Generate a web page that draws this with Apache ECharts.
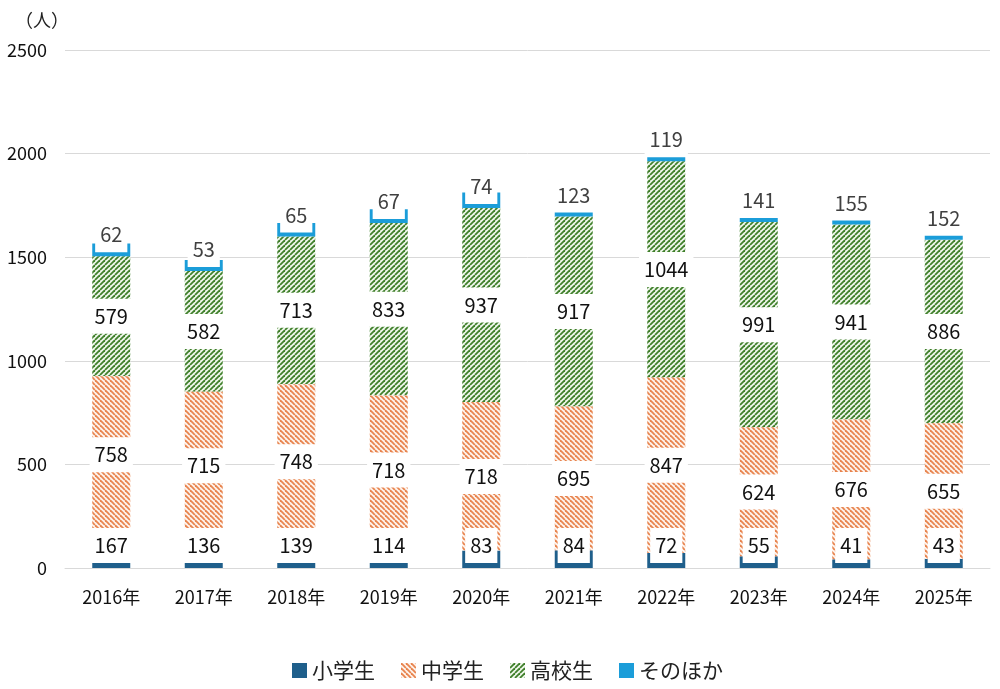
<!DOCTYPE html>
<html>
<head>
<meta charset="utf-8">
<script src="https://cdn.jsdelivr.net/npm/echarts@6/dist/echarts.min.js"></script>
<style>
  html, body { margin: 0; padding: 0; background: #fff; }
  #main { width: 1000px; height: 689px; }
</style>
</head>
<body>
<div id="main"></div>
<script>
// データ
const years = ['2016年', '2017年', '2018年', '2019年', '2020年', '2021年', '2022年', '2023年', '2024年', '2025年'];
const shogaku = [167, 136, 139, 114, 83, 84, 72, 55, 41, 43];
const chugaku = [758, 715, 748, 718, 718, 695, 847, 624, 676, 655];
const koko = [579, 582, 713, 833, 937, 917, 1044, 991, 941, 886];
const sonota = [62, 53, 65, 67, 74, 123, 119, 141, 155, 152];
const yTicks = [0, 500, 1000, 1500, 2000, 2500];

const FONT = '"Noto Sans CJK JP", "Noto Sans", sans-serif';

// 斜線パターン
function hatch(color, bg, down) {
  const s = 5;
  const c = document.createElement('canvas');
  c.width = s; c.height = s;
  const ctx = c.getContext('2d');
  ctx.fillStyle = bg;
  ctx.fillRect(0, 0, s, s);
  ctx.strokeStyle = color;
  ctx.lineWidth = 1.8;
  for (let x0 = -s; x0 <= s; x0 += s) {
    ctx.beginPath();
    if (down) { ctx.moveTo(x0, 0); ctx.lineTo(x0 + s, s); }
    else { ctx.moveTo(x0, s); ctx.lineTo(x0 + s, 0); }
    ctx.stroke();
  }
  return { image: c, repeat: 'repeat' };
}

const labelBase = {
  show: true,
  fontSize: 20,
  fontFamily: FONT,
  color: '#111',
  backgroundColor: '#fff',
  padding: [7, 5],
  lineHeight: 21
};

const chart = echarts.init(document.getElementById('main'));
chart.setOption({
  animation: false,
  title: {
    text: '（人）', left: 10, top: 6,
    textStyle: { fontSize: 18, fontWeight: 'normal', color: '#222', fontFamily: FONT }
  },
  grid: { left: 65, right: 10, top: 50, bottom: 121 },
  legend: {
    left: 287, top: 655,
    itemWidth: 15, itemHeight: 15, itemGap: 26,
    icon: 'rect',
    textStyle: { fontSize: 21, color: '#222', fontFamily: FONT },
    data: ['小学生', '中学生', '高校生', 'そのほか']
  },
  xAxis: {
    type: 'category',
    data: years,
    axisTick: { show: false },
    axisLine: { lineStyle: { color: '#d9d9d9' } },
    axisLabel: { fontSize: 18, color: '#111', margin: 20, fontFamily: FONT }
  },
  yAxis: {
    type: 'value',
    min: yTicks[0], max: yTicks[yTicks.length - 1], interval: 500,
    axisLine: { show: false },
    axisTick: { show: false },
    splitLine: { lineStyle: { color: '#d9d9d9' } },
    axisLabel: { fontSize: 18, color: '#111', margin: 18, fontFamily: FONT, formatter: v => String(v) }
  },
  series: [
    {
      name: '小学生', type: 'bar', stack: 'all', data: shogaku, barWidth: 38, z: 5,
      itemStyle: { color: '#1f5f8b' },
      label: Object.assign({}, labelBase, { position: 'insideBottom', distance: 5 })
    },
    {
      name: '中学生', type: 'bar', stack: 'all', data: chugaku, z: 4,
      itemStyle: { color: hatch('#e8844e', '#fdf3ec', true) },
      label: Object.assign({}, labelBase, { position: 'inside' })
    },
    {
      name: '高校生', type: 'bar', stack: 'all', data: koko, z: 3,
      itemStyle: { color: hatch('#3f7f2a', '#eef6ea', false) },
      label: Object.assign({}, labelBase, { position: 'inside' })
    },
    {
      name: 'そのほか', type: 'bar', stack: 'all', data: sonota, z: 6,
      itemStyle: { color: '#1b9dd9' },
      label: Object.assign({}, labelBase, { position: 'insideBottom', distance: 4, color: '#404040' })
    }
  ]
});
</script>
</body>
</html>
